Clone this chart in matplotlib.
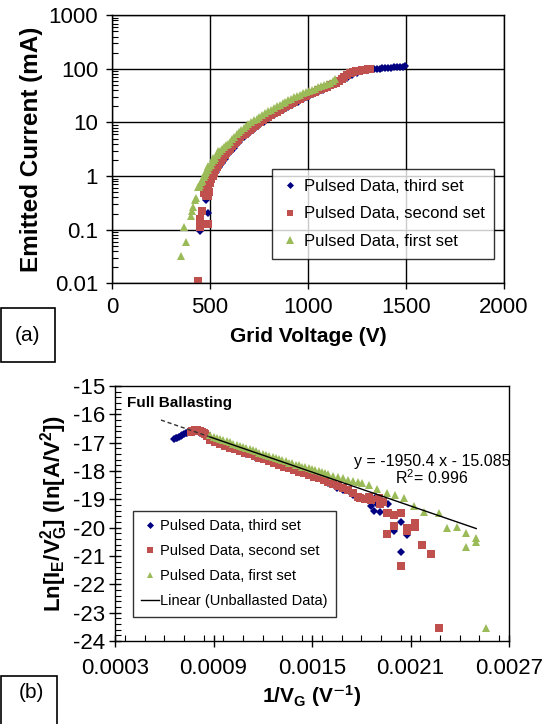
import matplotlib
matplotlib.use('Agg')
import matplotlib.pyplot as plt
from matplotlib.ticker import FixedLocator, MultipleLocator, LogLocator, NullFormatter, FuncFormatter
from matplotlib.patches import Rectangle

plt.rcParams['font.family'] = ['Liberation Sans', 'DejaVu Sans']
plt.rcParams['mathtext.fontset'] = 'custom'
plt.rcParams['mathtext.rm'] = 'Liberation Sans'
plt.rcParams['mathtext.it'] = 'Liberation Sans:italic'
plt.rcParams['mathtext.bf'] = 'Liberation Sans:bold'
plt.rcParams['axes.unicode_minus'] = False

# ---- (a) emitted current vs grid voltage ----
v_third = [449, 461, 470, 478, 480, 491, 491, 505, 517, 530,
           545, 560, 575, 590, 605, 620, 635, 650, 675, 700,
           725, 750, 775, 800, 825, 850, 875, 900, 925, 950,
           975, 1000, 1025, 1050, 1075, 1100, 1125, 1150, 1175, 1200,
           1225, 1250, 1275, 1300, 1320, 1335, 1350, 1365, 1380, 1395,
           1410, 1425, 1440, 1455, 1470, 1485, 1497]
i_third = [0.093, 0.119, 0.45, 0.365, 0.43, 0.205, 0.63, 0.8, 1.0, 1.2,
           1.45, 1.75, 2.1, 2.6, 2.9, 3.3, 3.8, 4.3, 5.3, 6.4,
           7.6, 8.9, 10.3, 11.9, 13.6, 15.5, 17.5, 19.7, 22, 24.6,
           27.4, 30.5, 33.8, 37.3, 41, 45, 49.5, 54.5, 61, 68,
           76, 84, 90, 95, 97.5, 99, 100, 101, 102.5, 103.5,
           104.5, 105.5, 106.5, 107.5, 108.5, 109.5, 111]

v_second = [437, 449, 449, 461, 488, 471, 478, 484, 490, 495,
            480, 488, 497, 500, 507, 514, 521, 528, 535, 542,
            550, 558, 566, 575, 584, 593, 602, 612, 622, 633,
            644, 655, 666, 678, 690, 702, 715, 728, 741, 754,
            768, 782, 796, 811, 826, 841, 856, 871, 886, 901,
            916, 931, 946, 961, 976, 991, 1006, 1021, 1036, 1051,
            1066, 1081, 1096, 1111, 1126, 1141, 1156, 1171, 1186, 1201,
            1216, 1231, 1246, 1261, 1276, 1291, 1306, 1318]
i_second = [0.0112, 0.111, 0.161, 0.227, 0.128, 0.49, 0.45, 0.42, 0.43, 0.5,
            0.55, 0.6, 0.8, 0.75, 0.88, 1.02, 1.16, 1.31, 1.47, 1.63,
            1.83, 2.02, 2.22, 2.45, 2.7, 2.95, 3.25, 3.6, 3.95, 4.35,
            4.8, 5.25, 5.75, 6.2, 6.75, 7.3, 8.0, 8.7, 9.4, 10.2,
            11.0, 11.9, 12.8, 13.8, 14.9, 16.0, 17.2, 18.5, 19.9, 21.3,
            22.8, 24.4, 26.0, 27.7, 29.5, 31.4, 33.3, 35.3, 37.4, 39.6,
            41.9, 44.3, 46.8, 49.4, 52.2, 55.5, 60, 65, 71, 77,
            83, 87.5, 90.5, 93, 95, 96.5, 97.8, 98.5]

v_first = [352, 380, 369, 401, 406, 411, 423, 428, 444, 457,
           474, 491, 517, 543, 440, 447, 454, 461, 468, 475,
           482, 489, 496, 503, 510, 518, 526, 534, 542, 551,
           560, 570, 580, 590, 600, 612, 624, 636, 648, 660,
           672, 684, 696, 710, 724, 738, 752, 766, 780, 795,
           810, 825, 840, 855, 870, 885, 900, 915, 930, 945,
           960, 975, 990, 1005, 1020, 1035, 1050, 1065, 1080, 1095,
           1110, 1125, 1140]
i_first = [0.032, 0.06, 0.112, 0.183, 0.22, 0.266, 0.365, 0.39, 0.63, 0.8,
           1.15, 1.54, 2.2, 2.95, 0.62, 0.68, 0.76, 0.86, 0.96, 1.06,
           1.18, 1.32, 1.47, 1.62, 1.8, 2.0, 2.22, 2.45, 2.7, 2.98,
           3.25, 3.5, 3.75, 4.0, 4.4, 4.9, 5.45, 6.05, 6.65, 7.3,
           7.95, 8.6, 9.3, 10.1, 10.9, 11.8, 12.8, 13.8, 14.9, 16.1,
           17.4, 18.8, 20.1, 21.5, 23.0, 24.5, 26.0, 27.7, 29.4, 31.1,
           32.9, 34.8, 36.7, 38.7, 40.8, 43.0, 45.0, 47.3, 49.8, 52.4,
           55.2, 58.5, 64]

# ---- (b) Fowler-Nordheim style plot ----
x_third = [0.00066, 0.00067, 0.00068, 0.00069, 0.00070, 0.00071, 0.00072, 0.00073, 0.00074, 0.00075,
           0.00078, 0.00082, 0.00086, 0.00090, 0.00095, 0.00100, 0.00105, 0.00110, 0.00115, 0.00120,
           0.001224, 0.00125, 0.00130, 0.00135, 0.00140, 0.00145, 0.001488, 0.00152, 0.00156, 0.00160,
           0.00165, 0.00169, 0.001724, 0.001751, 0.00180, 0.00186, 0.00188, 0.00189, 0.001896, 0.001917,
           0.001962, 0.002039, 0.00200, 0.00208, 0.002039]
y_third = [-16.86, -16.84, -16.82, -16.80, -16.77, -16.74, -16.70, -16.67, -16.64, -16.62,
           -16.62, -16.66, -16.80, -16.98, -17.08, -17.19, -17.29, -17.39, -17.49, -17.59,
           -17.63, -17.68, -17.79, -17.88, -17.98, -18.08, -18.14, -18.22, -18.32, -18.42,
           -18.61, -18.67, -18.70, -18.85, -18.95, -19.25, -19.42, -18.91, -19.18, -19.44,
           -19.17, -19.79, -20.11, -20.26, -20.87]

x_second = [0.00076, 0.00077, 0.00078, 0.00079, 0.00080, 0.00081, 0.00082, 0.00083, 0.00084, 0.00085,
            0.00086, 0.00088, 0.00091, 0.00094, 0.00097, 0.00100, 0.00103, 0.00106, 0.00109, 0.00112,
            0.00115, 0.00118, 0.00121, 0.00124, 0.00127, 0.00130, 0.00133, 0.00136, 0.00139, 0.00142,
            0.00145, 0.00148, 0.00151, 0.00154, 0.00157, 0.00160, 0.00163, 0.00166, 0.00169, 0.00172,
            0.00175, 0.00178, 0.001795, 0.00182, 0.001846, 0.00186, 0.001907, 0.001917, 0.00193, 0.001958,
            0.001962, 0.001998, 0.002043, 0.001958, 0.00200, 0.00208, 0.00208, 0.002126, 0.002126, 0.002171,
            0.002222, 0.002039, 0.002273]
y_second = [-16.62, -16.59, -16.57, -16.56, -16.56, -16.57, -16.59, -16.62, -16.66, -16.70,
            -16.76, -16.92, -16.98, -17.05, -17.11, -17.17, -17.23, -17.29, -17.35, -17.41,
            -17.47, -17.53, -17.59, -17.65, -17.72, -17.78, -17.84, -17.90, -17.96, -18.02,
            -18.08, -18.14, -18.20, -18.26, -18.32, -18.38, -18.45, -18.52, -18.60, -18.68,
            -18.78, -18.92, -18.96, -19.00, -18.91, -19.02, -18.96, -19.17, -19.10, -19.49,
            -19.49, -19.55, -19.49, -20.24, -19.93, -20.02, -20.12, -19.85, -19.97, -20.61,
            -20.93, -21.34, -23.53]

x_first = [0.00088, 0.00090, 0.00092, 0.00094, 0.00096, 0.00098, 0.00100, 0.00102, 0.00104, 0.00106,
           0.00108, 0.00110, 0.00112, 0.00114, 0.00116, 0.00118, 0.00120, 0.00122, 0.00124, 0.00126,
           0.00128, 0.00130, 0.00132, 0.00134, 0.00136, 0.00138, 0.00140, 0.00142, 0.00144, 0.00146,
           0.00148, 0.00150, 0.00152, 0.00154, 0.00156, 0.00158, 0.00160, 0.00163, 0.00166, 0.00169,
           0.00172, 0.00175, 0.00178, 0.001805, 0.001846, 0.001897, 0.001958, 0.002008, 0.002059, 0.00212,
           0.002181, 0.002273, 0.002324, 0.002381, 0.002436, 0.00250, 0.00250, 0.002436, 0.002562]
y_first = [-16.74, -16.79, -16.83, -16.87, -16.91, -16.95, -16.99, -17.03, -17.07, -17.11,
           -17.15, -17.19, -17.23, -17.27, -17.31, -17.35, -17.39, -17.43, -17.47, -17.51,
           -17.55, -17.59, -17.62, -17.66, -17.70, -17.73, -17.77, -17.80, -17.84, -17.87,
           -17.91, -17.94, -17.98, -18.01, -18.04, -18.08, -18.11, -18.16, -18.20, -18.25,
           -18.30, -18.35, -18.39, -18.43, -18.49, -18.65, -18.79, -18.85, -18.96, -19.24,
           -19.44, -19.49, -20.02, -19.97, -20.20, -20.35, -20.52, -20.67, -23.55]

fit_x = [0.00088, 0.00250]
fit_y = [-16.80, -20.03]
ext_x = [0.00058, 0.00088]
ext_y = [-16.20, -16.80]

c_blue = '#000080'
c_red = '#C0504D'
c_green = '#9BBB59'
names = ['Pulsed Data, third set', 'Pulsed Data, second set', 'Pulsed Data, first set']

fig = plt.figure(figsize=(5.48, 7.24), dpi=100)

# ---------- top panel ----------
ax1 = fig.add_axes([0.2044, 0.6087, 0.7153, 0.3702])
ax1.set_axisbelow(True)
ax1.plot(v_third, i_third, 'D', color=c_blue, ms=4.2, mew=0, label=names[0])
ax1.plot(v_second, i_second, 's', color=c_red, ms=5.2, mew=0, label=names[1])
ax1.plot(v_first, i_first, '^', color=c_green, ms=6.0, mew=0, label=names[2])
ax1.set_yscale('log')
ax1.set_xlim(0, 2000)
ax1.set_ylim(0.01, 1000)
ax1.xaxis.set_major_locator(MultipleLocator(500))
ax1.yaxis.set_major_locator(LogLocator(base=10, numticks=10))
ax1.yaxis.set_minor_locator(LogLocator(base=10, subs=range(2, 10), numticks=10))
ax1.yaxis.set_minor_formatter(NullFormatter())
ax1.yaxis.set_major_formatter(FuncFormatter(lambda v, p: '%g' % v))
ax1.grid(True, which='major', color='black', lw=1.0)
ax1.tick_params(which='major', direction='out', length=4, width=1, labelsize=16, pad=6)
ax1.tick_params(axis='y', which='minor', direction='in', length=4, width=0.8)
for s in ax1.spines.values():
    s.set_linewidth(1.0)
ax1.set_xlabel('Grid Voltage (V)', fontsize=15, fontweight='bold', labelpad=6)
ax1.set_ylabel('Emitted Current (mA)', fontsize=17.5, fontweight='bold', labelpad=4)
leg1 = ax1.legend(loc='upper left', bbox_to_anchor=(0.408, 0.4265), borderaxespad=0,
                  fontsize=12, frameon=True, fancybox=False, edgecolor='black',
                  handlelength=1.0, handletextpad=0.3, labelspacing=0.75, borderpad=0.6,
                  markerscale=0.85)
leg1.get_frame().set_linewidth(1.0)

# ---------- bottom panel ----------
ax2 = fig.add_axes([0.2099, 0.1146, 0.719, 0.3522])
ax2.plot(x_third, y_third, 'D', color=c_blue, ms=4.2, mew=0, label=names[0], zorder=2)
ax2.plot(x_second, y_second, 's', color=c_red, ms=5.6, mew=0, label=names[1], zorder=2)
ax2.plot(x_first, y_first, '^', color=c_green, ms=5.6, mew=0, label=names[2], zorder=2)
ax2.plot(fit_x, fit_y, '-', color='black', lw=1.0, label='Linear (Unballasted Data)', zorder=3)
ax2.plot(ext_x, ext_y, '--', color='#333333', lw=1.0, dashes=(3, 2), zorder=3)
ax2.set_xlim(0.0003, 0.0027)
ax2.set_ylim(-24, -15)
ax2.xaxis.set_major_locator(FixedLocator([0.0003, 0.0009, 0.0015, 0.0021, 0.0027]))
ax2.xaxis.set_minor_locator(MultipleLocator(0.00012))
ax2.xaxis.set_major_formatter(FuncFormatter(lambda v, p: '%.4f' % v))
ax2.yaxis.set_major_locator(MultipleLocator(1))
ax2.yaxis.set_minor_locator(MultipleLocator(0.2))
ax2.yaxis.set_major_formatter(FuncFormatter(lambda v, p: '%d' % round(v)))
ax2.tick_params(which='major', direction='inout', length=8, width=1, labelsize=16, pad=3)
ax2.tick_params(axis='x', which='major', pad=8)
ax2.tick_params(which='minor', direction='in', length=4, width=0.8)
for s in ax2.spines.values():
    s.set_linewidth(1.0)
ax2.set_xlabel(r'$\mathbf{1/V_G\ (V^{\mathsf{-}1})}$', fontsize=15, labelpad=3)
ax2.set_ylabel(r'$\mathbf{Ln[I_E/V_G^2]\ (ln[A/V^2])}$', fontsize=16, labelpad=2)
ax2.text(0.000373, -15.6, 'Full Ballasting', fontsize=11, fontweight='bold', ha='left', va='center')
ax2.text(0.00223, -17.67, 'y = -1950.4 x - 15.085', fontsize=11.5, ha='center', va='center')
ax2.text(0.00223, -18.25, r'R$^2$= 0.996', fontsize=11.5, ha='center', va='center')
leg2 = ax2.legend(loc='upper left', bbox_to_anchor=(0.0444, 0.511), borderaxespad=0,
                  fontsize=10.5, frameon=True, fancybox=False, edgecolor='black',
                  handlelength=1.2, handletextpad=0.1, labelspacing=0.75, borderpad=0.6,
                  markerscale=0.85)
leg2.get_frame().set_linewidth(1.0)

# panel tags
fig.add_artist(Rectangle((0.002, 0.5), 0.099, 0.0746, transform=fig.transFigure,
                         fill=False, ec='black', lw=1.2))
fig.text(0.05, 0.536, '(a)', fontsize=15, ha='center', va='center')
fig.add_artist(Rectangle((0.002, -0.01), 0.102, 0.0763, transform=fig.transFigure,
                         fill=False, ec='black', lw=1.2))
fig.text(0.0575, 0.043, '(b)', fontsize=15, ha='center', va='center')

fig.savefig('out.png', dpi=100)
